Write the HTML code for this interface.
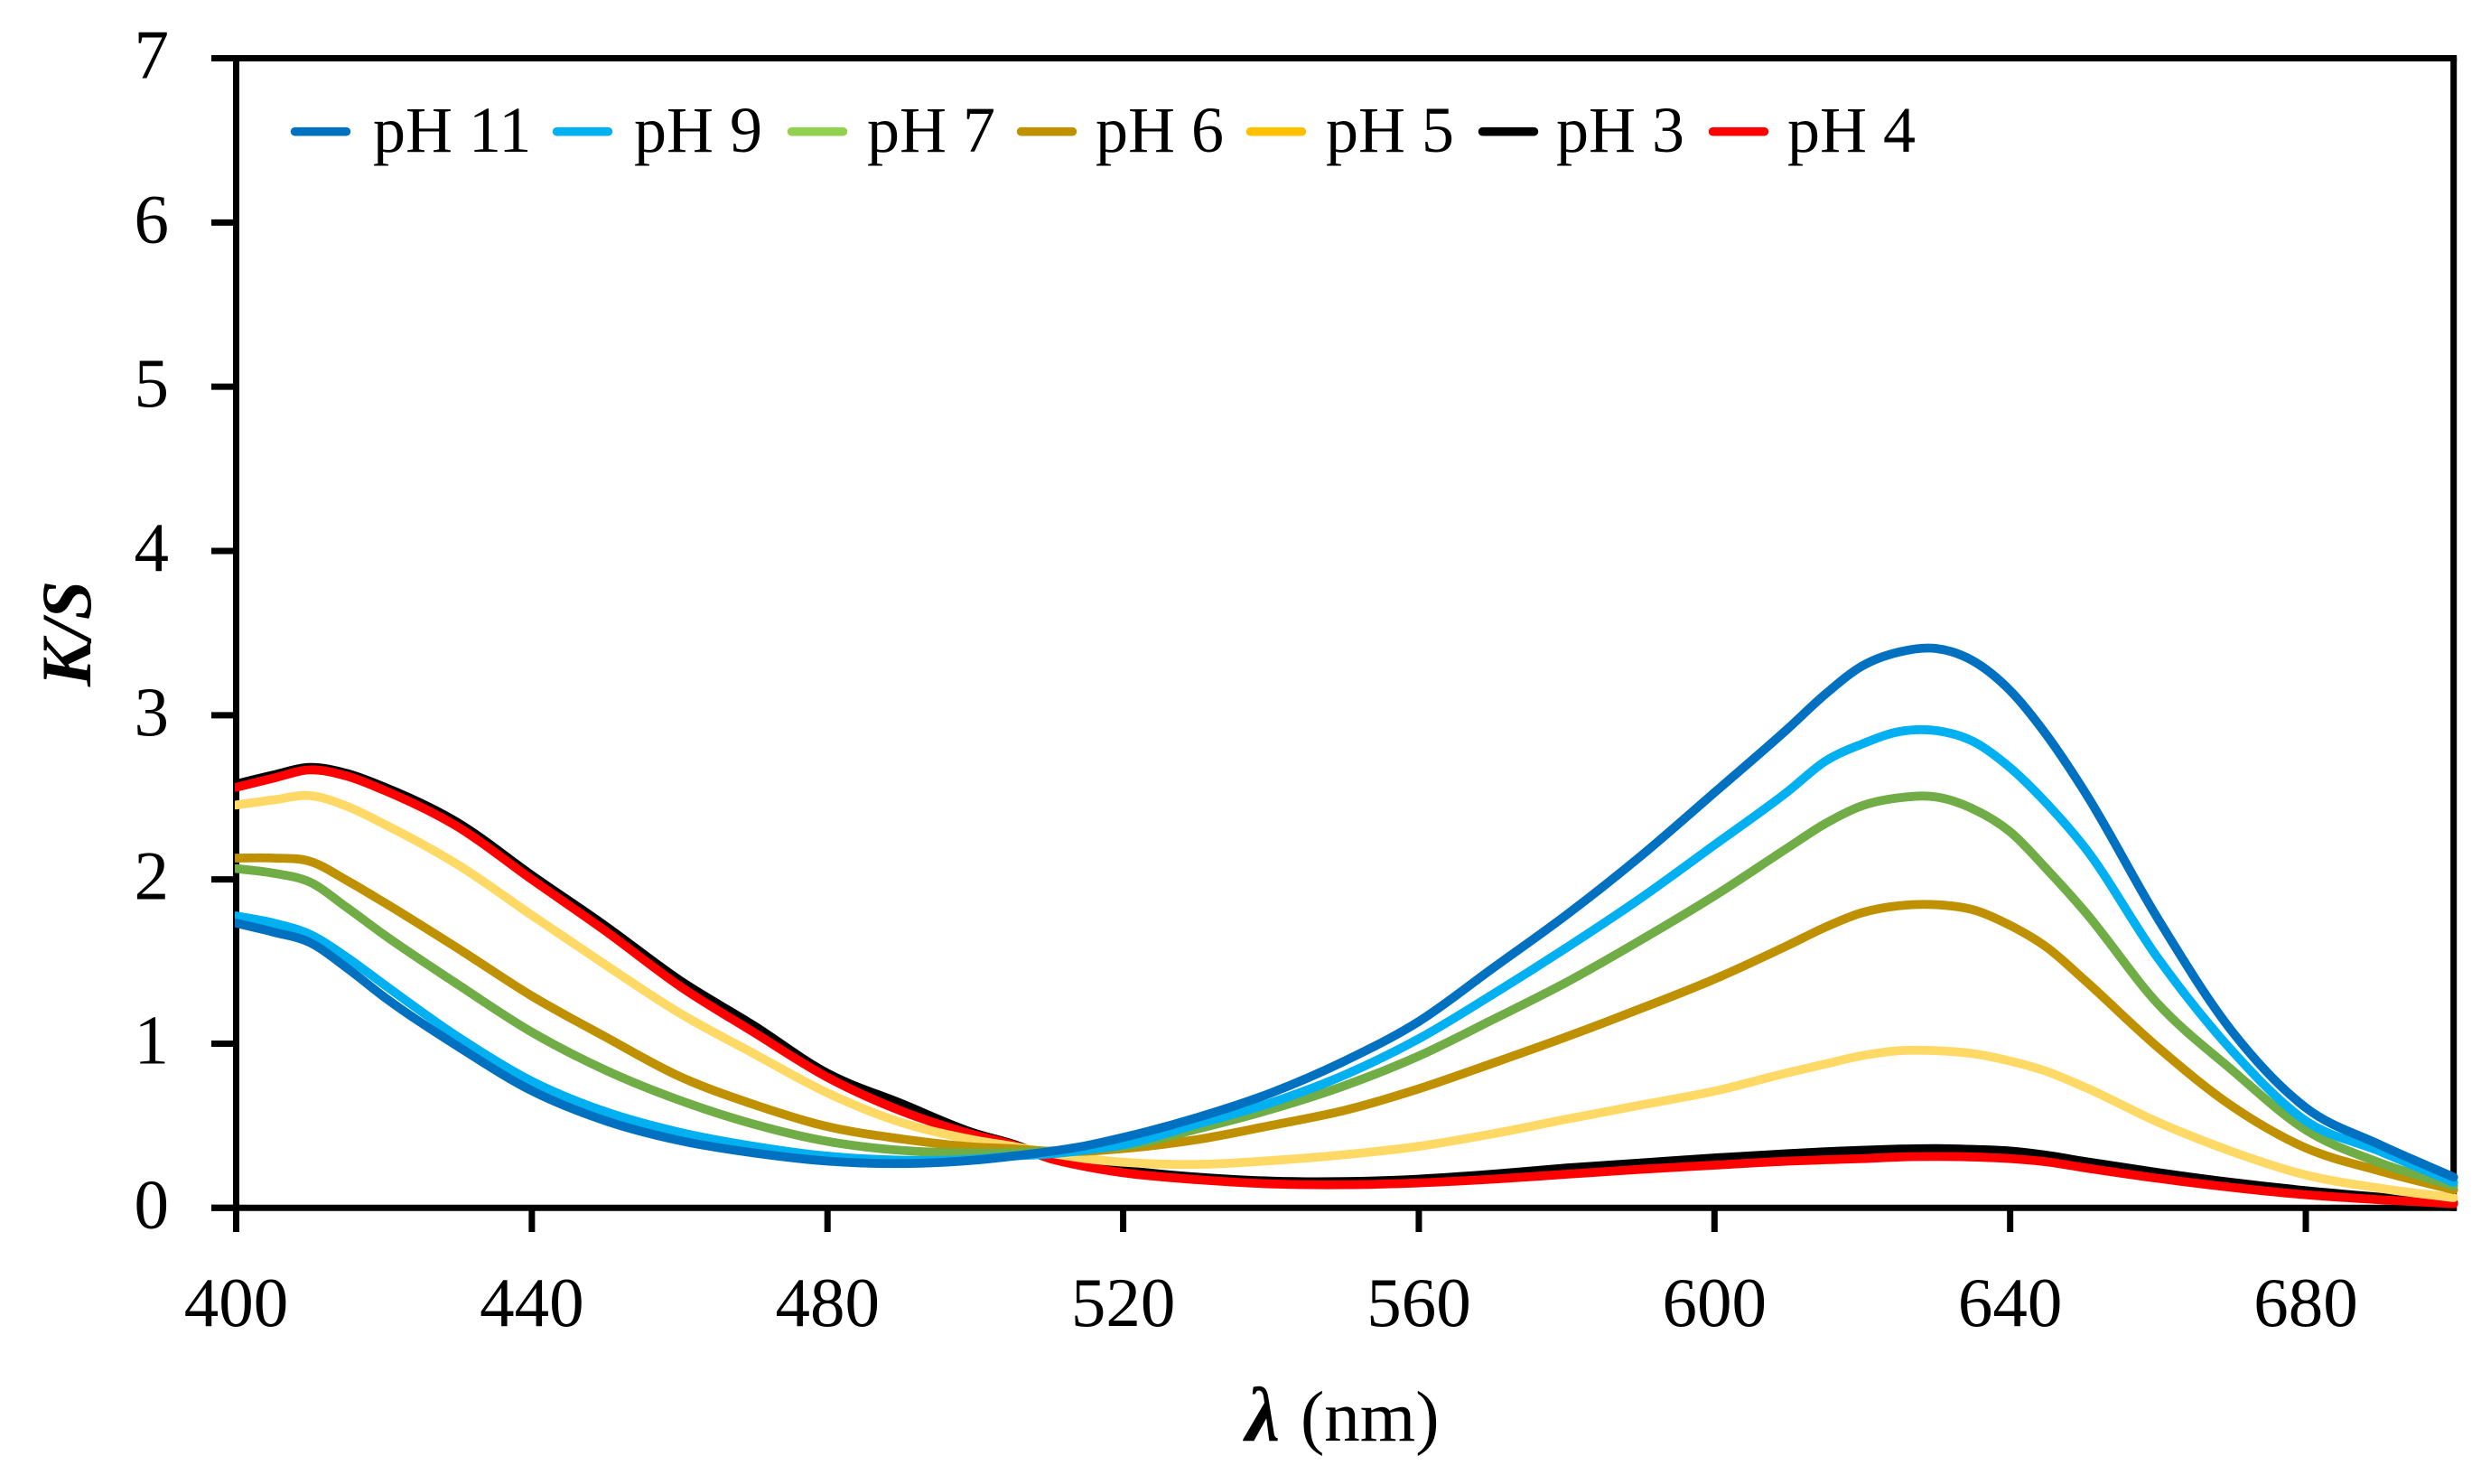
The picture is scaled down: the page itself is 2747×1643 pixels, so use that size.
<!DOCTYPE html>
<html lang="en">
<head>
<meta charset="utf-8">
<title>K/S spectra by pH</title>
<style>
  html, body { margin: 0; padding: 0; background: #ffffff; }
  svg { display: block; }
  text { font-family: "Liberation Serif", "DejaVu Serif", serif; fill: #000000; }
  .legend-text { font-size: 72px; }
  .tick-text { font-size: 77px; }
</style>
</head>
<body>
<svg id="chart" xmlns="http://www.w3.org/2000/svg" width="2747" height="1643" viewBox="0 0 2747 1643">
  <rect x="0" y="0" width="2747" height="1643" fill="#ffffff"/>
  <defs>
    <clipPath id="curve-clip"><rect x="260" y="0" width="2480" height="1643"/></clipPath>
  </defs>

  <g id="frame" stroke="#000" stroke-width="7" fill="none">
    <line x1="234" y1="64.5" x2="2720.2" y2="64.5"/>
    <line x1="234" y1="1337.3" x2="2720.2" y2="1337.3"/>
    <line x1="261.5" y1="64.5" x2="261.5" y2="1364"/>
    <line x1="2716.7" y1="64.5" x2="2716.7" y2="1340.8"/>
  </g>

  <g id="ticks"></g>
  <g id="curves" clip-path="url(#curve-clip)"></g>

  <g id="legend">
    <g>
      <line x1="326.6" y1="145.7" x2="383.4" y2="145.7" stroke="#0070C0" stroke-width="9.6" stroke-linecap="round"/>
      <text class="legend-text" x="413" y="168">pH 11</text>
    </g>
    <g>
      <line x1="616.6" y1="145.7" x2="673.4" y2="145.7" stroke="#00B0F0" stroke-width="9.6" stroke-linecap="round"/>
      <text class="legend-text" x="702" y="168">pH 9</text>
    </g>
    <g>
      <line x1="876.6" y1="145.7" x2="933.4" y2="145.7" stroke="#92D050" stroke-width="9.6" stroke-linecap="round"/>
      <text class="legend-text" x="960" y="168">pH 7</text>
    </g>
    <g>
      <line x1="1130.6" y1="145.7" x2="1187.4" y2="145.7" stroke="#BF9000" stroke-width="9.6" stroke-linecap="round"/>
      <text class="legend-text" x="1213" y="168">pH 6</text>
    </g>
    <g>
      <line x1="1384.6" y1="145.7" x2="1441.4" y2="145.7" stroke="#FFC000" stroke-width="9.6" stroke-linecap="round"/>
      <text class="legend-text" x="1468" y="168">pH 5</text>
    </g>
    <g>
      <line x1="1641.6" y1="145.7" x2="1698.4" y2="145.7" stroke="#000000" stroke-width="9.6" stroke-linecap="round"/>
      <text class="legend-text" x="1723" y="168">pH 3</text>
    </g>
    <g>
      <line x1="1896.6" y1="145.7" x2="1953.4" y2="145.7" stroke="#FF0000" stroke-width="9.6" stroke-linecap="round"/>
      <text class="legend-text" x="1979" y="168">pH 4</text>
    </g>
  </g>

  <g>
    <text x="1379" y="1595" font-size="86" font-weight="bold" font-style="italic">λ</text>
    <text x="1440" y="1595" font-size="79">(nm)</text>
  </g>
  <text transform="translate(100 760) rotate(-90)" font-size="78" font-weight="bold" font-style="italic">K/S</text>
</svg>

<script>
const wavelengths = [400,405,410,415,420,430,440,450,460,470,480,490,500,505,510,515,520,530,540,550,560,570,580,590,600,610,615,620,625,630,635,640,645,650,660,670,680,690,700];
const ph11 = [1.734,1.68,1.615,1.46,1.285,0.983,0.713,0.53,0.41,0.335,0.285,0.27,0.291,0.315,0.343,0.379,0.429,0.55,0.70,0.895,1.135,1.459,1.785,2.141,2.529,2.921,3.128,3.30,3.385,3.406,3.33,3.15,2.875,2.54,1.76,1.076,0.61,0.385,0.187];
const ph9 = [1.778,1.735,1.665,1.525,1.36,1.041,0.771,0.585,0.46,0.375,0.315,0.29,0.297,0.315,0.328,0.352,0.385,0.51,0.64,0.81,1.03,1.30,1.585,1.885,2.21,2.538,2.72,2.825,2.90,2.906,2.84,2.68,2.46,2.2,1.52,0.958,0.53,0.345,0.155];
const ph7 = [2.066,2.038,1.983,1.828,1.663,1.36,1.07,0.838,0.655,0.51,0.405,0.35,0.335,0.337,0.346,0.36,0.375,0.48,0.60,0.745,0.925,1.146,1.374,1.63,1.90,2.195,2.34,2.449,2.497,2.502,2.429,2.29,2.06,1.81,1.242,0.84,0.475,0.275,0.133];
const ph6 = [2.13,2.13,2.11,1.993,1.86,1.58,1.29,1.04,0.80,0.63,0.495,0.42,0.37,0.36,0.345,0.345,0.361,0.416,0.502,0.594,0.725,0.881,1.042,1.213,1.393,1.60,1.709,1.798,1.84,1.846,1.815,1.72,1.585,1.39,0.977,0.62,0.365,0.225,0.11];
const ph5 = [2.453,2.484,2.51,2.445,2.337,2.089,1.782,1.479,1.186,0.94,0.70,0.52,0.412,0.375,0.335,0.30,0.278,0.265,0.288,0.324,0.375,0.451,0.54,0.626,0.711,0.824,0.876,0.927,0.957,0.957,0.939,0.894,0.83,0.737,0.522,0.343,0.2,0.12,0.062];
const ph3 = [2.581,2.635,2.682,2.645,2.563,2.345,2.025,1.715,1.386,1.111,0.819,0.635,0.453,0.39,0.31,0.26,0.23,0.187,0.163,0.16,0.175,0.205,0.243,0.273,0.304,0.33,0.342,0.351,0.358,0.361,0.356,0.346,0.32,0.283,0.215,0.155,0.105,0.065,0.03];
const ph4 = [2.561,2.616,2.667,2.629,2.543,2.32,2.0,1.685,1.351,1.07,0.795,0.59,0.443,0.385,0.302,0.251,0.214,0.172,0.146,0.141,0.152,0.175,0.205,0.235,0.26,0.285,0.293,0.30,0.31,0.313,0.31,0.30,0.28,0.245,0.18,0.125,0.08,0.05,0.025];
const xTickLabels = [400,440,480,520,560,600,640,680];
const yTickLabels = [0,1,2,3,4,5,6,7];

const SVG_NS = 'http://www.w3.org/2000/svg';
const X_MIN = 400, X_MAX = 700, Y_MIN = 0, Y_MAX = 7;
const LEFT = 261.5, RIGHT = 2716.7, TOP = 64.5, BOTTOM = 1337.3;

function xScale(nm) { return LEFT + (nm - X_MIN) / (X_MAX - X_MIN) * (RIGHT - LEFT); }
function yScale(v) { return BOTTOM - (v - Y_MIN) / (Y_MAX - Y_MIN) * (BOTTOM - TOP); }

function smoothPath(xs, ys) {
  const px = xs.map(xScale);
  const py = ys.map(yScale);
  const n = px.length;
  const slopes = [];
  for (let i = 0; i < n; i++) {
    if (i === 0) { slopes.push((py[1] - py[0]) / (px[1] - px[0])); }
    else if (i === n - 1) { slopes.push((py[n - 1] - py[n - 2]) / (px[n - 1] - px[n - 2])); }
    else {
      const h0 = px[i] - px[i - 1];
      const h1 = px[i + 1] - px[i];
      const s0 = (py[i] - py[i - 1]) / h0;
      const s1 = (py[i + 1] - py[i]) / h1;
      slopes.push((h1 * s0 + h0 * s1) / (h0 + h1));
    }
  }
  let d = 'M' + px[0].toFixed(2) + ' ' + py[0].toFixed(2);
  for (let i = 0; i < n - 1; i++) {
    const h = (px[i + 1] - px[i]) / 3;
    d += ' C' + (px[i] + h).toFixed(2) + ' ' + (py[i] + slopes[i] * h).toFixed(2) +
         ' ' + (px[i + 1] - h).toFixed(2) + ' ' + (py[i + 1] - slopes[i + 1] * h).toFixed(2) +
         ' ' + px[i + 1].toFixed(2) + ' ' + py[i + 1].toFixed(2);
  }
  return d;
}

const ticksGroup = document.getElementById('ticks');
xTickLabels.forEach(function (nm) {
  const tick = document.createElementNS(SVG_NS, 'line');
  
  
  tick.setAttribute('x1', xScale(nm));
  tick.setAttribute('x2', xScale(nm));
  tick.setAttribute('y1', BOTTOM);
  tick.setAttribute('y2', BOTTOM + 26.7);
  tick.setAttribute('stroke', '#000');
  tick.setAttribute('stroke-width', '7');
  ticksGroup.appendChild(tick);

  const label = document.createElementNS(SVG_NS, 'text');
  
  
  label.setAttribute('class', 'tick-text');
  label.setAttribute('x', xScale(nm));
  label.setAttribute('y', 1468);
  label.setAttribute('text-anchor', 'middle');
  label.textContent = String(nm);
  ticksGroup.appendChild(label);
});
yTickLabels.forEach(function (v) {
  const tick = document.createElementNS(SVG_NS, 'line');
  
  
  tick.setAttribute('x1', 234);
  tick.setAttribute('x2', LEFT);
  tick.setAttribute('y1', yScale(v));
  tick.setAttribute('y2', yScale(v));
  tick.setAttribute('stroke', '#000');
  tick.setAttribute('stroke-width', '7');
  ticksGroup.appendChild(tick);

  const label = document.createElementNS(SVG_NS, 'text');
  
  
  label.setAttribute('class', 'tick-text');
  label.setAttribute('x', 187);
  label.setAttribute('y', yScale(v) + 22);
  label.setAttribute('text-anchor', 'end');
  label.textContent = String(v);
  ticksGroup.appendChild(label);
});

const curvesGroup = document.getElementById('curves');
function drawCurve(values, slug, color) {
  const el = document.createElementNS(SVG_NS, 'path');
  
  
  el.setAttribute('d', smoothPath(wavelengths, values));
  el.setAttribute('fill', 'none');
  el.setAttribute('stroke', color);
  el.setAttribute('stroke-width', '9.8');
  el.setAttribute('stroke-linecap', 'round');
  el.setAttribute('stroke-linejoin', 'round');
  curvesGroup.appendChild(el);
}
drawCurve(ph3, 'ph-3', '#000000');
drawCurve(ph4, 'ph-4', '#FF0000');
drawCurve(ph5, 'ph-5', '#FFD966');
drawCurve(ph6, 'ph-6', '#BF9000');
drawCurve(ph7, 'ph-7', '#70AD47');
drawCurve(ph9, 'ph-9', '#00B0F0');
drawCurve(ph11, 'ph-11', '#0070C0');
</script>
</body>
</html>
